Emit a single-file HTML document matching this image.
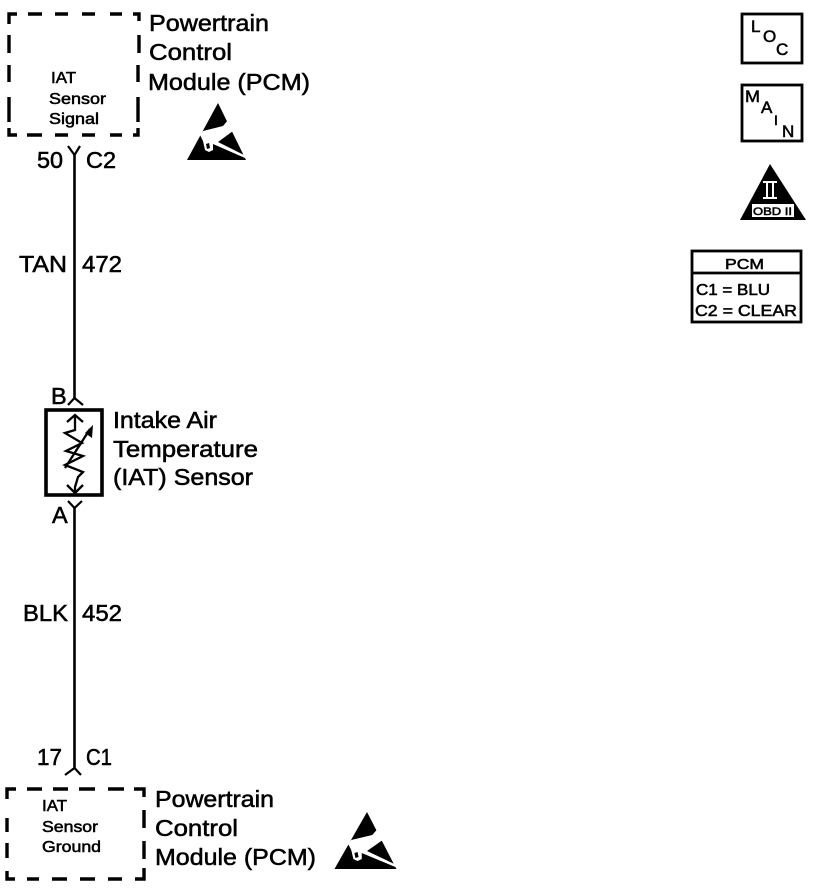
<!DOCTYPE html>
<html><head><meta charset="utf-8"><style>
html,body{margin:0;padding:0;background:#fff;width:832px;height:888px;overflow:hidden}
svg{display:block}
text{font-family:"Liberation Sans",sans-serif;fill:#000;stroke:#000;stroke-width:.55}
</style></head><body>
<svg width="832" height="888" viewBox="0 0 832 888">
<defs>
<g id="esd">
<path d="M218 103L246 160H187Z"/>
<path d="M200 135L203 131L223 126L228 120L233 131L218 142L246 156L245 158L213 144L213 150L209 152L205 150L203 141Z" fill="#fff"/>
<path d="M206 144L209 143L210 148L207 149Z"/>
</g>
</defs>
<rect width="832" height="888" fill="#fff"/>
<g fill="none" stroke="#000" stroke-width="3.4">
<path d="M9 24V14H17M28 14H42M55 14H68M82 14H95M110 14H122M133 14H139V21M139 35V53M138 65V82M138 97V122M138 128V135H133M122 135H110M95 135H82M68 135H55M42 135H27M17 135H9V128M9 122V97M9 82V65M9 53V35"/>
<path d="M7 799V789H16M27 789H42M53 789H68M79 789H95M108 789H124M134 789H144V797M144 810V828M144 841V859M144 868V879H135M122 879H108M95 879H80M67 879H52M39 879H27M15 879H7V871M7 858V843M7 832V818"/>
<path d="M74.5 155V398M74.5 508V768" stroke-width="2.6"/>
<path d="M68 146L74.5 155L80 146M68 405L74.5 398L83 405M68 501L74.5 508L82 501M65 775L74.5 768L81 775" stroke-width="2.2"/>
<rect x="46" y="410" width="56" height="85" stroke-width="3.6"/>
<path d="M75 415V430L65 433L82 443L66 451L83 456L65 465L83 472L78 477L75 487V492M67 422L75 415L83 422M67 485L75 493L83 485M65 468L90 429" stroke-width="2.3"/>
<rect x="742" y="14" width="60" height="49" stroke-width="2.8"/>
<rect x="742" y="85" width="60" height="56" stroke-width="2.8"/>
<rect x="692" y="251" width="109" height="71" stroke-width="2.8"/>
<path d="M692 273H801" stroke-width="2.8"/>
</g>
<path d="M93 425L85 433L92 438Z"/>
<use href="#esd"/>
<use href="#esd" transform="translate(149 709) translate(218 103) scale(1.05 1) translate(-218 -103)"/>
<path d="M770 164L806 220H740Z"/>
<rect x="752" y="204" width="42" height="13" fill="#fff"/>
<path d="M763 182H777M763 198H777M767 182V198M773 182V198" stroke="#fff" stroke-width="2"/>
<g font-size="23.5">
<text x="149" y="31" textLength="120" lengthAdjust="spacingAndGlyphs">Powertrain</text>
<text x="149" y="60" textLength="83" lengthAdjust="spacingAndGlyphs">Control</text>
<text x="148" y="90" textLength="162" lengthAdjust="spacingAndGlyphs">Module (PCM)</text>
<text x="155" y="807" textLength="119" lengthAdjust="spacingAndGlyphs">Powertrain</text>
<text x="155" y="836" textLength="83" lengthAdjust="spacingAndGlyphs">Control</text>
<text x="155" y="865" textLength="161" lengthAdjust="spacingAndGlyphs">Module (PCM)</text>
<text x="113" y="428" textLength="104" lengthAdjust="spacingAndGlyphs">Intake Air</text>
<text x="113" y="457" textLength="145" lengthAdjust="spacingAndGlyphs">Temperature</text>
<text x="113" y="485" textLength="140" lengthAdjust="spacingAndGlyphs">(IAT) Sensor</text>
<text x="37" y="168" textLength="26" lengthAdjust="spacingAndGlyphs">50</text>
<text x="86" y="168" textLength="30" lengthAdjust="spacingAndGlyphs">C2</text>
<text x="19" y="272" textLength="48" lengthAdjust="spacingAndGlyphs">TAN</text>
<text x="82" y="272" textLength="40" lengthAdjust="spacingAndGlyphs">472</text>
<text x="51" y="404">B</text>
<text x="52" y="523">A</text>
<text x="23" y="621" textLength="45" lengthAdjust="spacingAndGlyphs">BLK</text>
<text x="82" y="621" textLength="40" lengthAdjust="spacingAndGlyphs">452</text>
<text x="37" y="765" textLength="25" lengthAdjust="spacingAndGlyphs">17</text>
<text x="86" y="765" textLength="26" lengthAdjust="spacingAndGlyphs">C1</text>
</g>
<g font-size="16">
<text x="51" y="83" textLength="25" lengthAdjust="spacingAndGlyphs" stroke-width=".3">IAT</text>
<text x="49" y="104" textLength="57" lengthAdjust="spacingAndGlyphs">Sensor</text>
<text x="49" y="124" textLength="50" lengthAdjust="spacingAndGlyphs">Signal</text>
<text x="42" y="811" textLength="25" lengthAdjust="spacingAndGlyphs">IAT</text>
<text x="42" y="832" textLength="56" lengthAdjust="spacingAndGlyphs">Sensor</text>
<text x="42" y="852" textLength="59" lengthAdjust="spacingAndGlyphs">Ground</text>
</g>
<g font-size="17">
<text x="751" y="32">L</text>
<text x="763" y="42">O</text>
<text x="776" y="55">C</text>
<text x="745" y="102" textLength="15" lengthAdjust="spacingAndGlyphs">M</text>
<text x="761" y="113">A</text>
<text x="774" y="125" font-size="14">I</text>
<text x="782" y="137">N</text>
<text x="725" y="269" font-size="15" textLength="39" lengthAdjust="spacingAndGlyphs">PCM</text>
<text x="696" y="295" font-size="15.5" textLength="74" lengthAdjust="spacingAndGlyphs">C1 = BLU</text>
<text x="695" y="316" font-size="15.5" textLength="102" lengthAdjust="spacingAndGlyphs">C2 = CLEAR</text>
<text x="753" y="215" font-size="11" textLength="39" lengthAdjust="spacingAndGlyphs" stroke-width=".3">OBD II</text>
</g>
</svg>
</body></html>
